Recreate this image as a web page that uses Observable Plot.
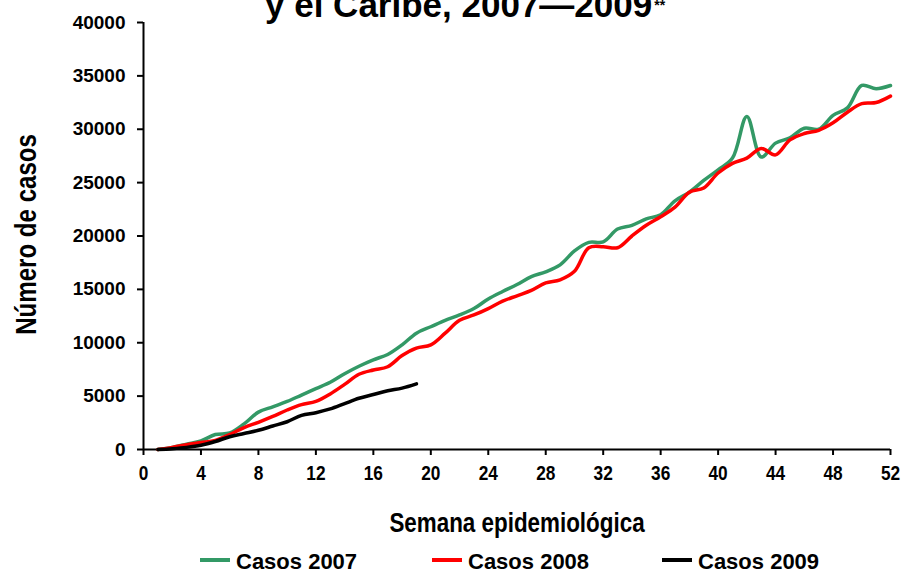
<!DOCTYPE html>
<html><head><meta charset="utf-8">
<script src="https://cdn.jsdelivr.net/npm/d3@7"></script>
<script src="https://cdn.jsdelivr.net/npm/@observablehq/plot@0.6"></script>
<style>
html,body{margin:0;padding:0;background:#fff;overflow:hidden;}
#wrap{position:relative;width:904px;height:571px;overflow:hidden;font-family:"Liberation Sans",Arial,sans-serif;color:#000;}
#title{position:absolute;left:265px;top:-13px;font-weight:bold;font-size:35px;line-height:35px;white-space:nowrap;}
#title span.sup{font-size:14px;position:relative;top:-7px;vertical-align:baseline;margin-left:2px;}
#chart{position:absolute;left:0;top:0;}
.lg-sw{position:absolute;height:4px;width:30px;top:558px;}
.lg-tx{position:absolute;top:551px;font-weight:bold;font-size:22px;line-height:22px;white-space:nowrap;}
</style></head>
<body>
<div id="wrap">
  <div id="chart"></div>
  <div id="title">y el Caribe, 2007—2009<span class="sup">**</span></div>
  <div id="legend"></div>
</div>
<script>
const weeks = [1,2,3,4,5,6,7,8,9,10,11,12,13,14,15,16,17,18,19,20,21,22,23,24,25,26,27,28,29,30,31,32,33,34,35,36,37,38,39,40,41,42,43,44,45,46,47,48,49,50,51,52];
const cases2007 = [0,200,500,800,1400,1550,2400,3500,4000,4500,5100,5700,6300,7100,7800,8400,8900,9800,10900,11500,12100,12600,13200,14100,14800,15450,16200,16650,17300,18600,19400,19450,20650,21000,21600,22000,23300,24100,25200,26200,27300,31200,27400,28700,29200,30100,30000,31300,32000,34100,33800,34100];
const cases2008 = [0,200,450,650,850,1400,2050,2550,3100,3700,4200,4500,5200,6100,7050,7450,7750,8800,9500,9800,10900,12100,12600,13200,13900,14400,14900,15600,15900,16700,18900,19000,18900,20000,21000,21800,22700,24100,24500,25900,26800,27300,28200,27600,29000,29600,29900,30600,31600,32400,32500,33100];
const cases2009 = [0,80,200,400,750,1200,1500,1800,2200,2600,3200,3450,3800,4300,4800,5150,5500,5750,6150];
const seriesNames = ["Casos 2007","Casos 2008","Casos 2009"];
const seriesColors = ["#339966","#ff0000","#000000"];
const xTicks = [0,4,8,12,16,20,24,28,32,36,40,44,48,52];
const yTicks = [0,5000,10000,15000,20000,25000,30000,35000,40000];
const xLabel = "Semana epidemiológica";
const yLabel = "Número de casos";

const seriesValues = [cases2007, cases2008, cases2009];
const data = [];
seriesValues.forEach((vals, s) => {
  vals.forEach((v, i) => data.push({week: weeks[i], cases: v, series: seriesNames[s]}));
});

const sans = "'Liberation Sans', Arial, sans-serif";

const chart = Plot.plot({
  width: 904, height: 540,
  marginTop: 22, marginBottom: 91, marginLeft: 143, marginRight: 14,
  style: {fontFamily: sans, fontWeight: "bold", color: "#000", background: "transparent", overflow: "visible"},
  x: {domain: [0, 52]},
  y: {domain: [0, 40000]},
  color: {domain: seriesNames, range: seriesColors},
  marks: [
    Plot.axisY({ticks: yTicks, tickSize: 6, tickPadding: 12, tickFormat: d => String(d), fontSize: 19, fontWeight: "bold", strokeWidth: 2, label: null}),
    Plot.axisX({ticks: xTicks, tickSize: 6, tickPadding: 10, tickFormat: d => String(d), fontSize: 21, fontWeight: "bold", strokeWidth: 2, label: null, className: "xt"}),
    Plot.ruleY([0], {stroke: "#000", strokeWidth: 2}),
    Plot.ruleX([0], {stroke: "#000", strokeWidth: 2}),
    Plot.line(data, {x: "week", y: "cases", z: "series", stroke: "series", strokeWidth: 3.5, curve: "catmull-rom"}),
    Plot.text([xLabel], {text: d => d, frameAnchor: "bottom", dy: 82, lineAnchor: "bottom", fontSize: 28, fontWeight: "bold", fill: "#000", className: "xl"}),
    Plot.text([yLabel], {text: d => d, frameAnchor: "left", rotate: -90, dx: -108, dy: -2, lineAnchor: "bottom", fontSize: 29, fontWeight: "bold", fill: "#000", className: "yl"})
  ]
});
document.getElementById("chart").appendChild(chart);

// condensed look (narrow bold face) via textLength
function squeeze(sel, factor) {
  chart.querySelectorAll(sel).forEach(t => {
    const len = t.getComputedTextLength();
    t.setAttribute("textLength", (len * factor).toFixed(1));
    t.setAttribute("lengthAdjust", "spacingAndGlyphs");
  });
}
squeeze(".xl text", 0.8);
squeeze(".yl text", 0.83);
squeeze(".xt text", 0.82);

// re-centre the rotated y label on the plot frame after squeezing
const yl = chart.querySelector(".yl");
if (yl) {
  const svgBox = chart.getBoundingClientRect();
  const b = yl.getBoundingClientRect();
  const cy = b.top + b.height / 2 - svgBox.top;
  const target = (22 + 449) / 2 - 1;
  const g = document.createElementNS("http://www.w3.org/2000/svg", "g");
  g.setAttribute("transform", `translate(0,${(target - cy).toFixed(1)})`);
  yl.parentNode.insertBefore(g, yl);
  g.appendChild(yl);
}

const legend = document.getElementById("legend");
const legendLeft = [200, 432, 662];
seriesNames.forEach((name, i) => {
  const sw = document.createElement("div");
  sw.className = "lg-sw";
  sw.style.left = legendLeft[i] + "px";
  sw.style.background = seriesColors[i];
  legend.appendChild(sw);
  const tx = document.createElement("div");
  tx.className = "lg-tx";
  tx.style.left = (legendLeft[i] + 36) + "px";
  tx.textContent = name;
  legend.appendChild(tx);
});
</script>
</body></html>
